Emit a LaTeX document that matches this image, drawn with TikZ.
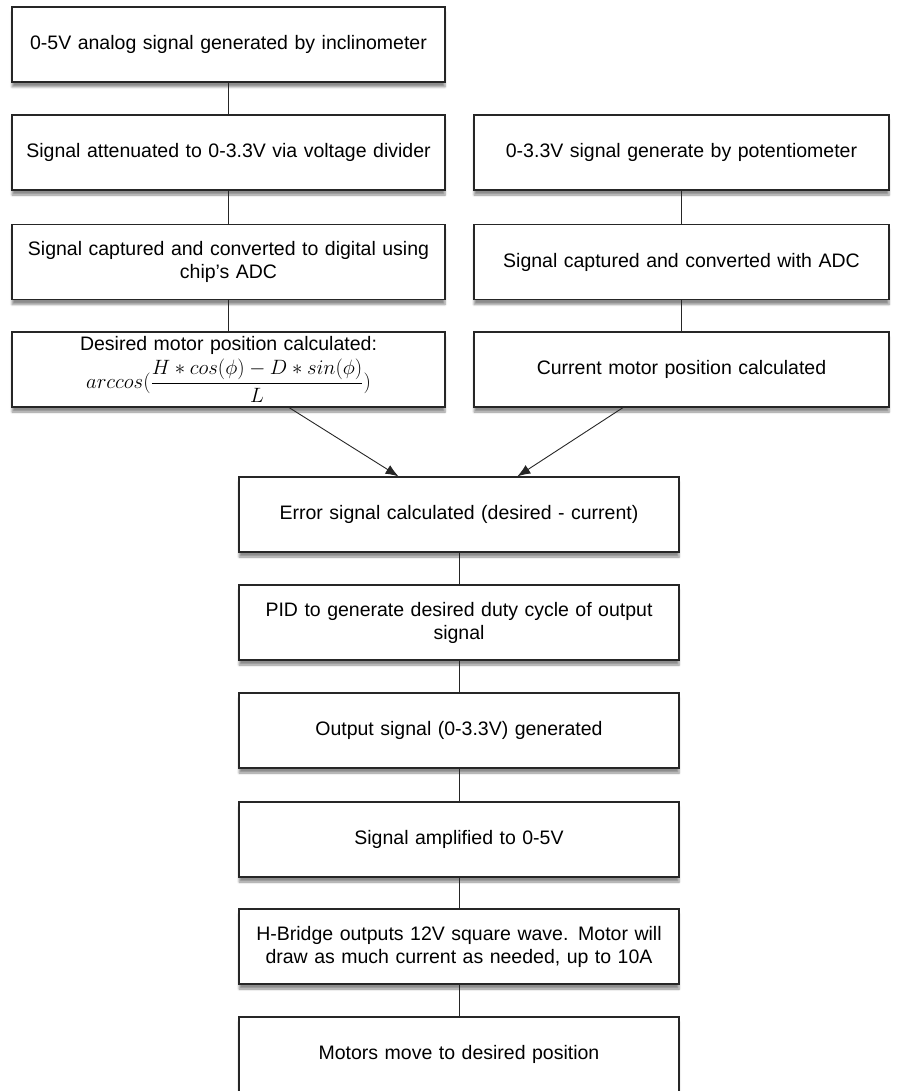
\documentclass[tikz,border=0pt]{standalone}
\usepackage{amsmath}
\usepackage{fontspec}
\setmainfont{Liberation Sans}
\usetikzlibrary{arrows.meta, positioning, shadows.blur}

\begin{document}
\begin{tikzpicture}[x=1pt, y=-1pt,
    stepbox/.style={draw=black!85, line width=1.2pt, fill=white, align=center,
        minimum height=75pt, inner sep=3pt, font=\fontsize{19.5}{23}\selectfont,
        blur shadow={shadow xshift=0pt, shadow yshift=-5pt, shadow blur steps=6, shadow opacity=45}},
    leftbox/.style={stepbox, text width=427pt},
    rightbox/.style={stepbox, text width=409pt},
    midbox/.style={stepbox, text width=434pt},
    link/.style={draw=black!85, line width=0.9pt},
    flow/.style={link, -{Latex[length=13pt, width=10pt]}}]
    \useasboundingbox (0,0) rectangle (899,1091);

    % Inclinometer branch
    \node[leftbox] (incl) at (228.5,44.5) {0-5V analog signal generated by inclinometer};
    \node[leftbox] (atten) at (228.5,152.5) {Signal attenuated to 0-3.3V via voltage divider};
    \node[leftbox] (adcl) at (228.5,262) {Signal captured and converted to digital using\\chip's ADC};
    \node[leftbox, inner sep=1pt, text width=431pt, font=\fontsize{19.5}{20}\selectfont] (desired) at (228.5,369.5) {Desired motor position calculated:\\[4pt]
        $arccos(\dfrac{H * cos(\phi) - D * sin(\phi)}{L})$};

    % Potentiometer branch
    \node[rightbox] (pot) at (681.5,152.5) {0-3.3V signal generate by potentiometer};
    \node[rightbox] (adcr) at (681.5,262) {Signal captured and converted with ADC};
    \node[rightbox] (current) at (681.5,369.5) {Current motor position calculated};

    % Common chain
    \node[midbox] (err) at (459,514.5) {Error signal calculated (desired - current)};
    \node[midbox] (pid) at (459,622.5) {PID to generate desired duty cycle of output\\signal};
    \node[midbox] (out) at (459,730.5) {Output signal (0-3.3V) generated};
    \node[midbox] (amp) at (459,839.5) {Signal amplified to 0-5V};
    \node[midbox] (hbr) at (459,946.5) {H-Bridge outputs 12V square wave. Motor will\\draw as much current as needed, up to 10A};
    \node[midbox] (motor) at (459,1054.5) {Motors move to desired position};

    % Connectors
    \draw[link] (incl) -- (atten);
    \draw[link] (atten) -- (adcl);
    \draw[link] (adcl) -- (desired);
    \draw[link] (pot) -- (adcr);
    \draw[link] (adcr) -- (current);
    \draw[flow] (desired) -- (err);
    \draw[flow] (current) -- (err);
    \draw[link] (err) -- (pid);
    \draw[link] (pid) -- (out);
    \draw[link] (out) -- (amp);
    \draw[link] (amp) -- (hbr);
    \draw[link] (hbr) -- (motor);
\end{tikzpicture}
\end{document}
